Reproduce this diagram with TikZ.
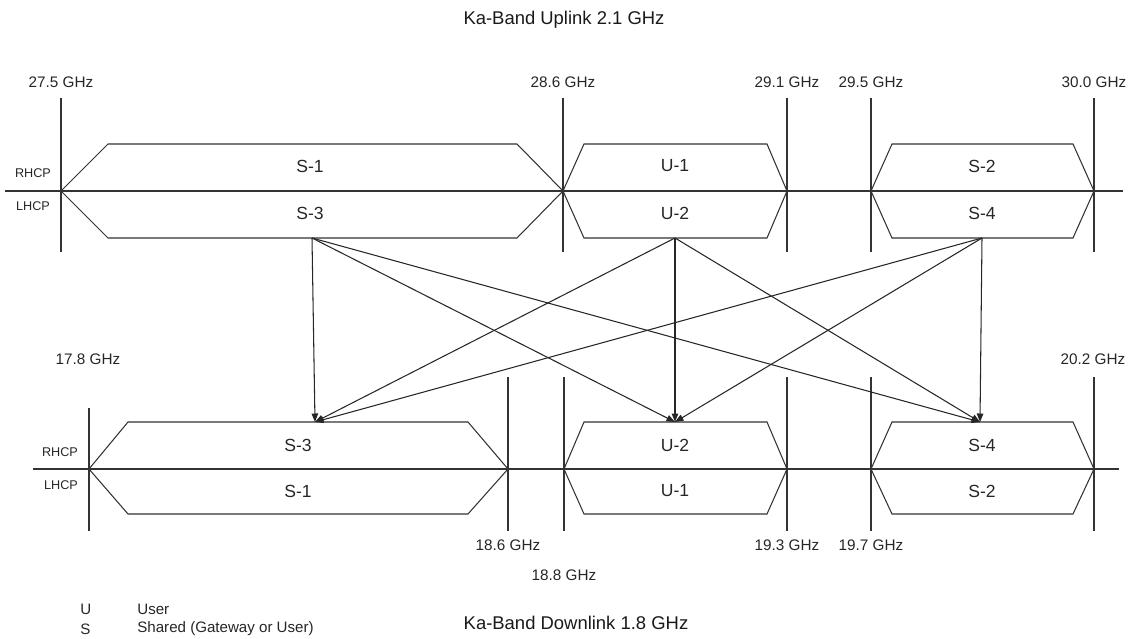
\documentclass[tikz,border=0pt]{standalone}
\usepackage{fontspec}
\setmainfont{Liberation Sans}
\usetikzlibrary{arrows.meta}
\tikzset{
  band/.style = {draw=black!80, line width=0.6pt, line join=miter},
  axis/.style = {draw=black!80, line width=0.6pt},
  freq/.style = {text=black!85, font=\fontsize{8.7}{10}\selectfont, inner sep=0pt},
  chan/.style = {text=black!85, font=\fontsize{10}{12}\selectfont, inner sep=0pt},
  pol/.style = {text=black!85, font=\fontsize{7.2}{8}\selectfont, inner sep=0pt},
  heading/.style = {text=black!90, font=\fontsize{10.5}{12}\selectfont, inner sep=0pt},
  legend/.style = {text=black!85, font=\fontsize{8.6}{10}\selectfont, inner sep=0pt, anchor=west},
  link/.style = {draw=black!85, line width=0.6pt, -{Triangle[length=1.7mm, width=1.3mm]}}
}

\begin{document}
\begin{tikzpicture}[x=0.02cm, y=-0.02cm]
\useasboundingbox (0,0) rectangle (1133,639);

% Uplink
\node[heading] (uptitle) at (564,20) {Ka-Band Uplink 2.1 GHz};

\foreach \x/\f in {61/27.5, 563/28.6, 787/29.1, 871/29.5, 1094/30.0} {
  \draw[axis] (\x,98) -- (\x,252);
  \node[freq] (up\f) at (\x,82) {\f\ GHz};
}
\draw[axis] (5,191) -- (1123,191);

\path[band] (61,191) -- (108,144) -- (517,144) -- (563,191) -- (517,238) -- (108,238) -- cycle;
\path[band] (563,191) -- (584,144) -- (767,144) -- (787,191) -- (767,238) -- (584,238) -- cycle;
\path[band] (871,191) -- (892,144) -- (1073,144) -- (1094,191) -- (1073,238) -- (892,238) -- cycle;

\node[pol] (uprhcp) at (33,173) {RHCP};
\node[pol] (uplhcp) at (33,206) {LHCP};

\node[chan] (upS1) at (310,166) {S-1};
\node[chan] (upS3) at (310,213) {S-3};
\node[chan] (upU1) at (675,166) {U-1};
\node[chan] (upU2) at (675,213) {U-2};
\node[chan] (upS2) at (982,166) {S-2};
\node[chan] (upS4) at (982,213) {S-4};

\coordinate (outS3) at (312,238);
\coordinate (outU2) at (675,238);
\coordinate (outS4) at (982,238);

% Downlink
\draw[axis] (89,408) -- (89,531);
\foreach \x in {508, 564, 787, 871, 1094}
  \draw[axis] (\x,377) -- (\x,531);
\draw[axis] (33,469) -- (1119,469);

\node[freq] (dn17.8) at (88,359) {17.8 GHz};
\node[freq] (dn20.2) at (1093,359) {20.2 GHz};
\node[freq] (dn18.6) at (508,545) {18.6 GHz};
\node[freq] (dn18.8) at (564,575) {18.8 GHz};
\node[freq] (dn19.3) at (787,545) {19.3 GHz};
\node[freq] (dn19.7) at (871,545) {19.7 GHz};

\path[band] (89,469) -- (128,422) -- (468,422) -- (508,469) -- (468,514) -- (128,514) -- cycle;
\path[band] (564,469) -- (584,422) -- (767,422) -- (787,469) -- (767,514) -- (584,514) -- cycle;
\path[band] (871,469) -- (892,422) -- (1073,422) -- (1094,469) -- (1073,514) -- (892,514) -- cycle;

\node[pol] (dnrhcp) at (60,452) {RHCP};
\node[pol] (dnlhcp) at (61,485) {LHCP};

\node[chan] (dnS3) at (298,445) {S-3};
\node[chan] (dnS1) at (298,491) {S-1};
\node[chan] (dnU2) at (675,445) {U-2};
\node[chan] (dnU1) at (675,491) {U-1};
\node[chan] (dnS4) at (982,445) {S-4};
\node[chan] (dnS2) at (982,491) {S-2};

\coordinate (inS3) at (315,422);
\coordinate (inU2) at (675,422);
\coordinate (inS4) at (980,422);

% Cross connections
\foreach \s in {S3, U2, S4}
  \foreach \t in {S3, U2, S4}
    \draw[link] (out\s) -- (in\t);

\node[heading] (dntitle) at (576,623) {Ka-Band Downlink 1.8 GHz};

% Legend
\node[legend] (keyU) at (80,609) {U};
\node[legend] (keyUser) at (137,609) {User};
\node[legend] (keyS) at (80,629) {S};
\node[legend] (keyShared) at (137,629) {Shared (Gateway or User)};

\end{tikzpicture}
\end{document}
